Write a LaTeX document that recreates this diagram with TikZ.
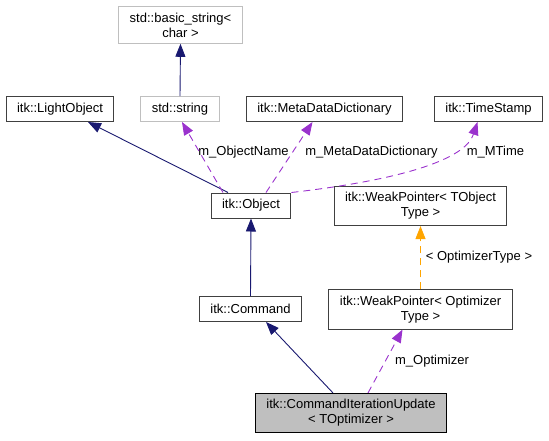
\documentclass[tikz,border=0pt]{standalone}
\usepackage{fontspec}
\setmainfont{Liberation Sans}
\usetikzlibrary{arrows.meta}
\definecolor{edgeblue}{HTML}{191970}
\definecolor{edgepurple}{HTML}{9A32CD}
\definecolor{edgeorange}{HTML}{FFA500}
\tikzset{
  box/.style={draw=black!75, line width=1pt, fill=white, align=center, inner xsep=11pt, inner ysep=6pt, minimum height=25pt, font=\fontsize{13}{15}\selectfont},
  greybox/.style={box, draw=black!25},
  inh/.style={draw=edgeblue, line width=0.9pt, -{Triangle[length=13pt,width=10pt]}},
  mem/.style={draw=edgepurple, line width=0.9pt, dash pattern=on 7pt off 5pt, -{Triangle[length=13pt,width=10pt]}},
  tmpl/.style={draw=edgeorange, line width=0.9pt, dash pattern=on 7pt off 5pt, -{Triangle[length=13pt,width=10pt]}},
  lbl/.style={font=\fontsize{13}{15}\selectfont, inner sep=0pt}
}
\begin{document}
\begin{tikzpicture}[x=1pt, y=-1pt]
  \useasboundingbox (0,0) rectangle (549,440);
  \node[greybox] (bstr) at (180.5,25) {std::basic\_string<\\char >};
  \node[greybox] (str) at (180,109) {std::string};
  \node[box] (lobj) at (60,109) {itk::LightObject};
  \node[box] (mdd) at (324.5,109) {itk::MetaDataDictionary};
  \node[box] (ts) at (488.5,109) {itk::TimeStamp};
  \node[box] (obj) at (251,205.5) {itk::Object};
  \node[box] (wpto) at (420.5,206) {itk::WeakPointer< TObject\\Type >};
  \node[box] (cmd) at (250.5,309) {itk::Command};
  \node[box] (wpopt) at (420.5,309.5) {itk::WeakPointer< Optimizer\\Type >};
  \node[box, fill=black!25, draw=black] (ciu) at (351,413) {itk::CommandIterationUpdate\\< TOptimizer >};
  \node[lbl] (lname) at (243.5,152) {m\_ObjectName};
  \node[lbl] (ldict) at (371.5,152) {m\_MetaDataDictionary};
  \node[lbl] (ltime) at (495.5,152) {m\_MTime};
  \node[lbl] (ltype) at (479,257) {< OptimizerType >};
  \node[lbl] (lopt) at (432,361) {m\_Optimizer};
  \draw[inh] (str.north) -- (bstr.south);
  \draw[inh] ([xshift=-23pt]obj.north) -- ([xshift=28pt]lobj.south);
  \draw[mem] ([xshift=-28pt]obj.north) -- ([xshift=2pt]str.south);
  \draw[mem] ([xshift=15pt]obj.north) -- ([xshift=-12pt]mdd.south);
  \draw[mem] (obj.north east) .. controls (400,180) and (465,160) .. ([xshift=-11pt]ts.south);
  \draw[inh] (cmd.north) -- (obj.south);
  \draw[tmpl] (wpopt.north) -- (wpto.south);
  \draw[inh] ([xshift=-18pt]ciu.north) -- ([xshift=15.5pt]cmd.south);
  \draw[mem] ([xshift=17pt]ciu.north) -- ([xshift=-18pt]wpopt.south);
\end{tikzpicture}
\end{document}
